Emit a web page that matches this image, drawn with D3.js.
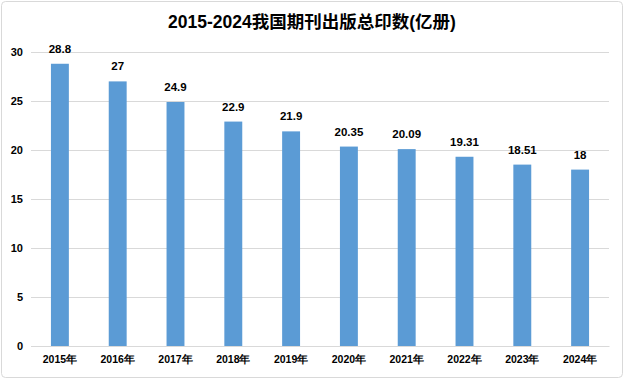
<!DOCTYPE html>
<html><head><meta charset="utf-8">
<script src="https://cdn.jsdelivr.net/npm/d3@7"></script>
<style>
body{margin:0;background:#fff;}
svg{display:block;font-family:"Liberation Sans","Noto Sans CJK SC",sans-serif;}
</style></head><body>
<svg id="c" width="624" height="380"></svg>
<script>
const categories = ["2015年","2016年","2017年","2018年","2019年","2020年","2021年","2022年","2023年","2024年"];
const values = [28.8, 27, 24.9, 22.9, 21.9, 20.35, 20.09, 19.31, 18.51, 18];
const labels = ["28.8","27","24.9","22.9","21.9","20.35","20.09","19.31","18.51","18"];
const yTicks = [0,5,10,15,20,25,30];
const title = "2015-2024我国期刊出版总印数(亿册)";

const svg = d3.select("#c");
svg.append("rect").attr("x",1.5).attr("y",1.5).attr("width",621).attr("height",376)
  .attr("rx",4).attr("fill","#fff").attr("stroke","#d9d9d9").attr("stroke-width",1);

const m = {l:31, r:609, t:52, b:346};
const x = d3.scaleBand().domain(categories).range([m.l, m.r]).paddingInner(0.69).paddingOuter(0.345);
const y = d3.scaleLinear().domain([0,30]).range([m.b, m.t]);

svg.append("text").attr("x",312).attr("y",28).attr("text-anchor","middle")
  .attr("font-size",17.5).attr("font-weight","bold").attr("fill","#000").text(title);

const ga = svg.append("g").attr("transform",`translate(${m.l},0)`)
  .call(d3.axisLeft(y).tickValues(yTicks).tickSize(-(m.r-m.l)).tickPadding(0));
ga.select(".domain").remove();
ga.selectAll(".tick line").attr("stroke","#d9d9d9");
ga.selectAll(".tick text").attr("x",-8).attr("font-size",11).attr("fill","#000").attr("font-weight","bold");

const gx = svg.append("g").attr("transform",`translate(0,${m.b})`)
  .call(d3.axisBottom(x).tickSize(0).tickPadding(10));
gx.select(".domain").attr("stroke","#d9d9d9");
gx.selectAll(".tick text").attr("font-size",10.5).attr("font-weight","bold").attr("fill","#000");

svg.append("g").selectAll("rect").data(values).join("rect")
  .attr("x",(d,i)=>x(categories[i])).attr("width",x.bandwidth())
  .attr("y",d=>y(d)).attr("height",d=>y(0)-y(d)).attr("fill","#5B9BD5");

svg.append("g").selectAll("text").data(values).join("text")
  .attr("x",(d,i)=>x(categories[i])+x.bandwidth()/2).attr("y",d=>y(d)-11)
  .attr("text-anchor","middle").attr("font-size",11.5).attr("font-weight","bold").attr("fill","#000")
  .text((d,i)=>labels[i]);
</script></body></html>
